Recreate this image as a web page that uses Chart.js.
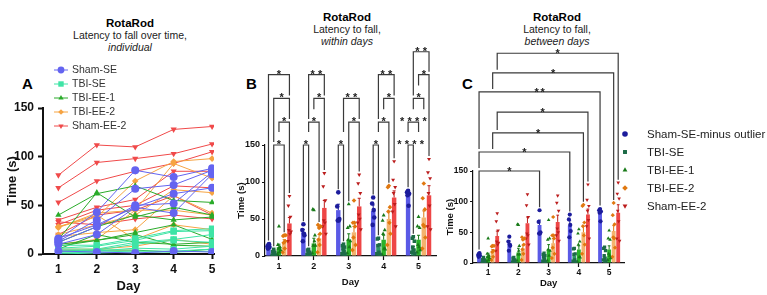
<!DOCTYPE html>
<html>
<head>
<meta charset="utf-8">
<script src="https://cdn.jsdelivr.net/npm/chart.js@4.4.1/dist/chart.umd.min.js"></script>
<style>
  body { margin: 0; background: #fff; width: 767px; height: 295px; overflow: hidden; position: relative;
         font-family: 'Liberation Sans', Arial, sans-serif; }
  canvas { position: absolute; top: 0; }
  .ttl { position: absolute; width: 220px; text-align: center; font-size: 10.5px; line-height: 12px; color: #222; }
  .ttl b { font-size: 11.5px; color: #000; }
  .let { position: absolute; font-weight: bold; font-size: 15px; top: 75px; color: #000; }
</style>
</head>
<body>
<div class="ttl" style="left:20px;top:17px"><b>RotaRod</b><br>Latency to fall over time,<br><i>individual</i></div>
<div class="ttl" style="left:237px;top:11px"><b>RotaRod</b><br>Latency to fall,<br><i>within days</i></div>
<div class="ttl" style="left:447px;top:11px"><b>RotaRod</b><br>Latency to fall,<br><i>between days</i></div>
<div class="let" style="left:22px">A</div>
<div class="let" style="left:246px">B</div>
<div class="let" style="left:462px">C</div>

<canvas id="chartA" width="240" height="295" style="left:0"></canvas>
<canvas id="chartB" width="207" height="295" style="left:233px"></canvas>
<canvas id="chartC" width="327" height="295" style="left:440px"></canvas>

<script>
const days = [1, 2, 3, 4, 5];
const yTicks = [0, 50, 100, 150];
const groupNames = ['Sham-SE', 'TBI-SE', 'TBI-EE-1', 'TBI-EE-2', 'Sham-EE-2'];
const groupNamesC = ['Sham-SE-minus outlier', 'TBI-SE', 'TBI-EE-1', 'TBI-EE-2', 'Sham-EE-2'];

// individual animals, time on rod (s) for days 1..5
const shamSE = [
  [15, 43, 86, 79, 88],
  [13, 35, 67, 71, 86],
  [12, 28, 50, 52, 84],
  [10, 20, 48, 42, 82],
  [16, 30, 48, 62, 68]
];
const shamSEOutlier = [3, 2, 1, 3, 2];
const tbiSE = [
  [9, 9, 16, 24, 26],
  [6, 8, 14, 23, 24],
  [5, 5, 12, 15, 20],
  [3, 4, 10, 14, 12],
  [2, 3, 6, 5, 8],
  [1, 2, 3, 3, 5],
  [0, 1, 2, 2, 3]
];
const tbiEE1 = [
  [40, 62, 70, 55, 53],
  [15, 63, 38, 48, 40],
  [12, 28, 40, 35, 38],
  [10, 14, 22, 30, 15],
  [5, 20, 12, 10, 12],
  [3, 4, 4, 2, 5],
  [8, 14, 20, 9, 8]
];
const tbiEE2 = [
  [28, 38, 75, 95, 98],
  [27, 42, 45, 93, 78],
  [20, 30, 40, 66, 63],
  [18, 22, 25, 60, 42],
  [10, 15, 45, 45, 40],
  [5, 5, 8, 15, 10],
  [28, 40, 15, 30, 25]
];
const shamEE2 = [
  [81, 112, 110, 128, 131],
  [68, 94, 98, 103, 113],
  [53, 75, 85, 93, 105],
  [35, 48, 56, 85, 85],
  [30, 45, 50, 70, 68],
  [20, 40, 45, 60, 40],
  [33, 30, 36, 40, 36]
];

const meanShamSE = [15, 32, 62, 61, 85];
const meanTbiSE = [7, 5, 10, 12, 10];
const meanTbiEE1 = [12, 17, 22, 22, 22];
const meanTbiEE2 = [19, 24, 32, 50, 52];
const meanShamEE2 = [44, 65, 67, 79, 82];
const semShamSE = [2, 4, 8, 8, 4];
const semTbiSE = [1.5, 1.5, 3, 3, 3];
const semTbiEE1 = [4, 7, 8, 6, 6];
const semTbiEE2 = [3, 5, 8, 10, 9];
const semShamEE2 = [8, 10, 11, 9, 13];

// within days: [day, group a, group b, bracket height (s), stars]
const withinDays = [
  [1, 0, 4, 245, '*'], [1, 1, 4, 213, '*'], [1, 2, 4, 181, '*'], [1, 1, 3, 150, '*'],
  [2, 1, 4, 245, '**'], [2, 2, 4, 213, '*'], [2, 1, 3, 181, '*'], [2, 0, 1, 150, '*'],
  [3, 1, 4, 213, '**'], [3, 2, 4, 181, '*'], [3, 0, 1, 150, '*'],
  [4, 1, 4, 245, '**'], [4, 2, 4, 213, '*'], [4, 1, 3, 181, '*'], [4, 0, 1, 150, '*'],
  [5, 1, 4, 276, '**'], [5, 2, 4, 245, '*'], [5, 1, 3, 213, '*'], [5, 0, 2, 181, '****'], [5, 0, 1, 150, '****']
];
// between days: [group, day a, day b, bracket height (s), stars]
const betweenDays = [
  [4, 1, 5, 342, '*'], [3, 1, 5, 310, '*'], [0, 1, 5, 279, '**'],
  [4, 1, 4, 246, '*'], [3, 1, 4, 212, '*'], [0, 1, 4, 181, '*'], [0, 1, 3, 150, '*']
];

const animals = [shamSE, tbiSE, tbiEE1, tbiEE2, shamEE2];
const means = [meanShamSE, meanTbiSE, meanTbiEE1, meanTbiEE2, meanShamEE2];
const sems = [semShamSE, semTbiSE, semTbiEE1, semTbiEE2, semShamEE2];

// styles
const lineColors = ['#6464f0', '#3fe4a6', '#2aab2a', '#f6a443', '#f04a4a'];
const barColors = ['#5a5ae6', '#2e9466', '#2ab22a', '#f4b36e', '#ee4646'];
const dotColors = ['#1c1c9c', '#1d6b47', '#187a18', '#e07810', '#bb1c1c'];
const shapes = ['circle', 'rect', 'triangle', 'rectRot', 'triangle'];
const rotations = [0, 0, 0, 0, 180];
const radiiA = [4, 4.5, 3.6, 3.3, 3.6];
const groupStep = 0.15;
const jitter = [0, -0.03, 0.03, -0.015, 0.015, -0.045, 0.045];
const font = "'Liberation Sans', Arial, sans-serif";
Chart.defaults.font.family = font;
Chart.defaults.color = '#111';

const fixedTicks = vals => s => { s.ticks = vals.map(v => ({ value: v })); };

function axisOpts(o) {
  return {
    type: 'linear', min: o.min, max: o.max, offset: false,
    afterBuildTicks: fixedTicks(o.ticks),
    afterFit: o.fit,
    grid: { drawOnChartArea: false, offset: false, tickLength: o.tick, tickWidth: o.lw, tickColor: '#111' },
    border: { color: '#111', width: o.lw },
    ticks: { font: { size: o.fs, weight: 'bold' }, color: '#111', padding: o.pad },
    title: { display: true, text: o.title, color: '#111', font: { size: o.tfs, weight: 'bold' }, padding: o.tpad }
  };
}

// ---------- panel A ----------
const dsA = [];
animals.forEach((list, g) => {
  const rows = g === 0 ? list.concat([shamSEOutlier]) : list;
  rows.forEach(vals => dsA.push({
    data: vals.map((v, i) => ({ x: days[i], y: v })),
    borderColor: lineColors[g], backgroundColor: lineColors[g], borderWidth: 1,
    pointStyle: shapes[g], pointRotation: rotations[g], pointRadius: radiiA[g], pointBorderWidth: 0
  }));
});

const legendA = {
  id: 'legendA',
  afterDraw(chart) {
    const ctx = chart.ctx;
    ctx.save();
    ctx.font = '10.5px ' + font;
    ctx.textBaseline = 'middle';
    groupNames.forEach((name, g) => {
      const y = 70 + g * 14;
      ctx.strokeStyle = lineColors[g]; ctx.fillStyle = lineColors[g]; ctx.lineWidth = 1;
      ctx.beginPath(); ctx.moveTo(54, y); ctx.lineTo(68, y); ctx.stroke();
      Chart.helpers.drawPoint(ctx, { pointStyle: shapes[g], rotation: rotations[g], radius: radiiA[g] * 0.85, borderWidth: 0 }, 61, y);
      ctx.fillStyle = '#333';
      ctx.fillText(name, 72, y + 0.5);
    });
    ctx.restore();
  }
};

new Chart(document.getElementById('chartA'), {
  type: 'line',
  data: { datasets: dsA },
  options: {
    responsive: false, animation: false, events: [],
    layout: { padding: { top: 108, right: 26, left: 0, bottom: 0 } },
    plugins: { legend: { display: false }, tooltip: { enabled: false } },
    scales: {
      x: axisOpts({ min: 0.6, max: 5.05, ticks: days, fit: s => { s.height = 41; }, tick: 5, lw: 2, fs: 12, pad: 3,
                    title: 'Day', tfs: 13, tpad: { top: 0, bottom: 1 } }),
      y: axisOpts({ min: 0, max: 150, ticks: yTicks, fit: s => { s.width = 43; }, tick: 5, lw: 2, fs: 12, pad: 4,
                    title: 'Time (s)', tfs: 13, tpad: { top: 5, bottom: 0 } })
    }
  },
  plugins: [legendA]
});

// ---------- panels B and C ----------
function barDatasets(radius) {
  const out = [];
  animals.forEach((list, g) => {
    out.push({
      type: 'bar', grp: g, order: 2,
      data: days.map((d, i) => ({ x: d, y: means[g][i] })),
      backgroundColor: barColors[g], borderWidth: 0,
      categoryPercentage: 0.75, barPercentage: 0.85
    });
  });
  animals.forEach((list, g) => {
    const pts = [];
    list.forEach((vals, a) => vals.forEach((v, i) => pts.push({ x: days[i] + (g - 2) * groupStep + jitter[a % jitter.length], y: v })));
    out.push({
      type: 'scatter', grp: g, order: 1, data: pts,
      backgroundColor: dotColors[g], pointStyle: shapes[g], pointRotation: rotations[g],
      pointRadius: radius * (g === 1 ? 1.1 : 1), pointBorderWidth: 0
    });
  });
  return out;
}

function dataTop(g, d) {
  const vals = animals[g].map(a => a[d - 1]);
  return Math.max(Math.max.apply(null, vals), means[g][d - 1] + sems[g][d - 1]);
}

function decor(mode, brackets, cfg) {
  return {
    id: 'decor' + mode,
    afterDatasetDraw(chart, args) {
      const ds = chart.data.datasets[args.index];
      if (ds.type !== 'bar') return;
      const g = ds.grp, ctx = chart.ctx, ys = chart.scales.y;
      ctx.save();
      ctx.strokeStyle = dotColors[g]; ctx.lineWidth = 1;
      args.meta.data.forEach((el, i) => {
        const top = ys.getPixelForValue(means[g][i] + sems[g][i]);
        const w = el.width * 0.35;
        ctx.beginPath();
        ctx.moveTo(el.x, el.y); ctx.lineTo(el.x, top);
        ctx.moveTo(el.x - w, top); ctx.lineTo(el.x + w, top);
        ctx.stroke();
      });
      ctx.restore();
    },
    afterDraw(chart) {
      const ctx = chart.ctx, xs = chart.scales.x, ys = chart.scales.y;
      const fs = cfg.starSize, gap = 3;
      const list = brackets.map(b => {
        let g1, g2, d1, d2;
        if (mode === 'B') { d1 = b[0]; d2 = b[0]; g1 = b[1]; g2 = b[2]; }
        else { g1 = b[0]; g2 = b[0]; d1 = b[1]; d2 = b[2]; }
        const x1 = xs.getPixelForValue(d1 + (g1 - 2) * groupStep);
        const x2 = xs.getPixelForValue(d2 + (g2 - 2) * groupStep);
        const y = ys.getPixelForValue(b[3]);
        const n = b[4].length, cx = (x1 + x2) / 2, lw = (n - 1) * cfg.starGap + 5;
        const base = y - cfg.lift;
        return { x1, x2, y, n, cx, lx1: cx - lw / 2, lx2: cx + lw / 2, base, ltop: base - 0.72 * fs, g1, g2, d1, d2 };
      });
      const legEnd = (b, x, g, d) => {
        let lim = ys.getPixelForValue(dataTop(g, d)) - gap;
        list.forEach(o => {
          if (o === b || o.y <= b.y) return;
          if (x >= o.x1 - 1 && x <= o.x2 + 1) lim = Math.min(lim, o.y - gap);
          if (x >= o.lx1 - 1 && x <= o.lx2 + 1) lim = Math.min(lim, o.ltop - gap);
        });
        return Math.max(lim, b.y + 4);
      };
      ctx.save();
      ctx.strokeStyle = '#3a3a3a'; ctx.lineWidth = 1.2; ctx.fillStyle = '#222';
      ctx.font = 'bold ' + fs + 'px ' + font;
      ctx.textAlign = 'center'; ctx.textBaseline = 'alphabetic';
      list.forEach(b => {
        ctx.beginPath();
        ctx.moveTo(b.x1, legEnd(b, b.x1, b.g1, b.d1));
        ctx.lineTo(b.x1, b.y); ctx.lineTo(b.x2, b.y);
        ctx.lineTo(b.x2, legEnd(b, b.x2, b.g2, b.d2));
        ctx.stroke();
        for (let k = 0; k < b.n; k++) {
          ctx.fillText('*', b.cx - (b.n - 1) * cfg.starGap / 2 + k * cfg.starGap, b.base + 0.45 * fs);
        }
      });
      if (cfg.legend) {
        ctx.font = '11.5px ' + font; ctx.textAlign = 'left'; ctx.textBaseline = 'middle';
        cfg.legend.forEach((name, g) => {
          const y = 134 + g * 18;
          ctx.fillStyle = dotColors[g];
          Chart.helpers.drawPoint(ctx, { pointStyle: shapes[g], rotation: rotations[g], radius: 2.8, borderWidth: 0 }, 185, y);
          ctx.fillStyle = '#222';
          ctx.fillText(name, 207, y + 0.5);
        });
      }
      ctx.restore();
    }
  };
}

function panelOptions(p) {
  return {
    responsive: false, animation: false, events: [],
    layout: { padding: { top: p.top, right: p.right, left: 0, bottom: 0 } },
    plugins: { legend: { display: false }, tooltip: { enabled: false } },
    scales: {
      x: axisOpts({ min: p.xmin, max: 5.5, ticks: days, fit: s => { s.height = p.xh; }, tick: 4, lw: 1.2, fs: p.fs, pad: 1,
                    title: 'Day', tfs: p.tfs, tpad: { top: 0, bottom: p.dayPad } }),
      y: axisOpts({ min: 0, max: 150, ticks: yTicks, fit: s => { s.width = p.yw; }, tick: 3, lw: 1.2, fs: p.fs, pad: 2,
                    title: 'Time (s)', tfs: p.tfs, tpad: { top: p.tPad, bottom: 0 } })
    }
  };
}

new Chart(document.getElementById('chartB'), {
  type: 'bar',
  data: { datasets: barDatasets(2.3) },
  options: panelOptions({ top: 145, right: 3.5, xmin: 0.6, xh: 39, yw: 32, fs: 9, tfs: 9.5, dayPad: 7, tPad: 3 }),
  plugins: [decor('B', withinDays, { starSize: 11, starGap: 7.5, lift: 2 })]
});

new Chart(document.getElementById('chartC'), {
  type: 'bar',
  data: { datasets: barDatasets(2.1) },
  options: panelOptions({ top: 171, right: 142.75, xmin: 0.5, xh: 32, yw: 33, fs: 8.5, tfs: 9.5, dayPad: 6, tPad: 5 }),
  plugins: [decor('C', betweenDays, { starSize: 11, starGap: 6, lift: 1, legend: groupNamesC })]
});
</script>
</body>
</html>
